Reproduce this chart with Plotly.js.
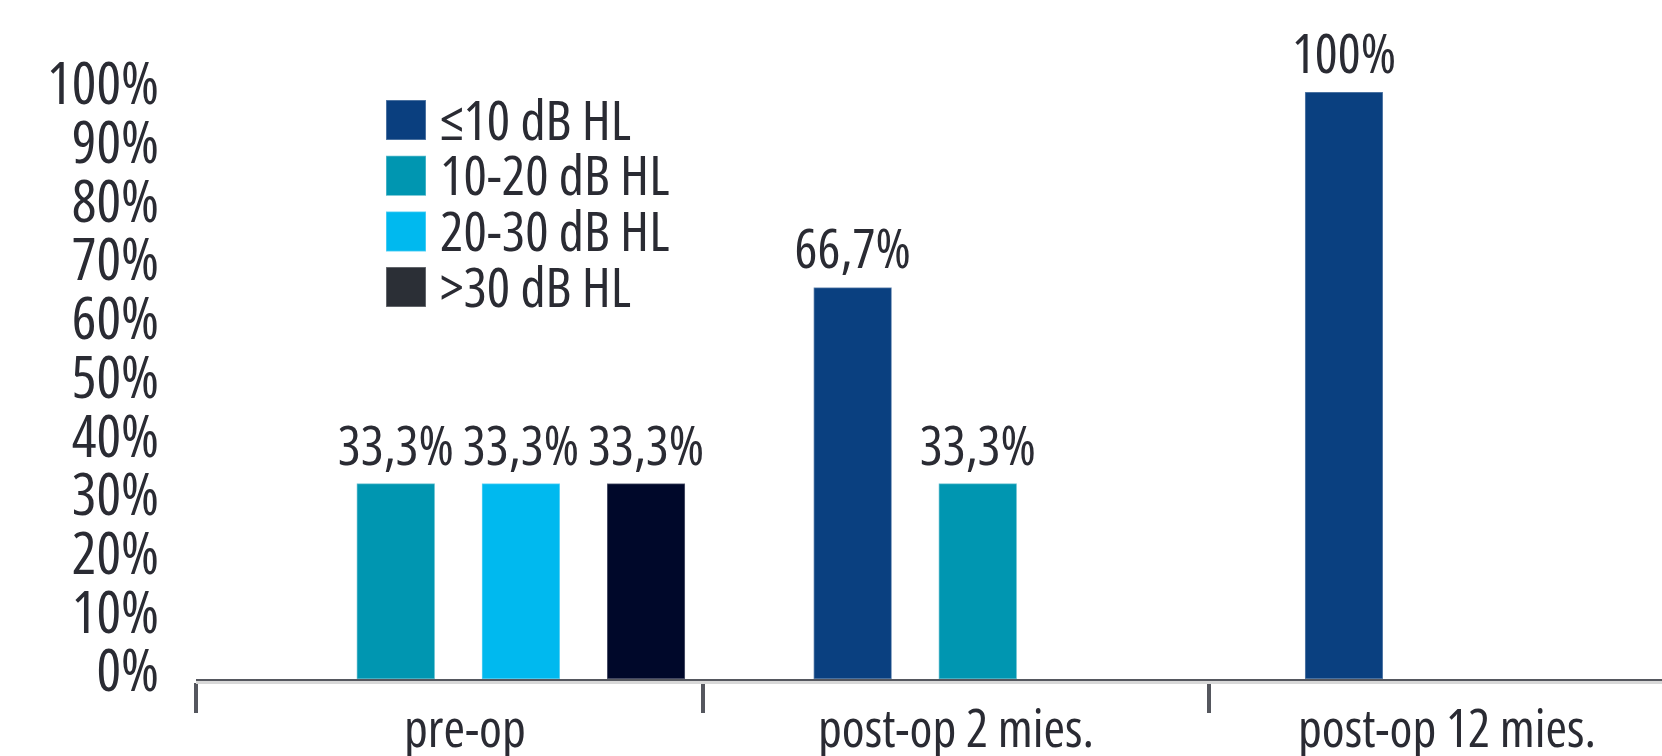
<!DOCTYPE html>
<html>
<head>
<meta charset="utf-8">
<script src="https://cdn.plot.ly/plotly-3.0.1.min.js"></script>
<style>
  html, body { margin: 0; padding: 0; background: #ffffff; }
  #chart { width: 1662px; height: 756px; }
  /* narrow width for every svg label (also for the hidden measuring svg) */
  text { font-stretch: 62.5%; }
</style>
</head>
<body>
<div id="chart"></div>
<script>
// Hearing threshold groups at each time point (share of patients, %)
const categories = ['pre-op', 'post-op 2 mies.', 'post-op 12 mies.'];
const seriesNames = ['\u226410 dB HL', '10-20 dB HL', '20-30 dB HL', '>30 dB HL'];
const le10 = [null, 66.7, 100];
const from10to20 = [33.3, 33.3, null];
const from20to30 = [33.3, null, null];
const over30 = [33.3, null, null];
const seriesValues = [le10, from10to20, from20to30, over30];
const yTickValues = [0, 10, 20, 30, 40, 50, 60, 70, 80, 90, 100];

// Styling
const FONT = "'Open Sans', sans-serif";
const TEXT_COLOR = '#2a2b33';
const barColors = ['#0a4080', '#0096b1', '#00b9ef', '#00082a'];
const keyColors = ['#0a3f7f', '#0096b1', '#00b9ef', '#2b2f36'];
const AXIS_COLOR = '#55575e';

// Plot frame in pixels
const W = 1662, H = 756;
const M = { l: 196, r: 0, t: 92, b: 77 };
const plotW = W - M.l - M.r, plotH = H - M.t - M.b;
const CAT_PX = 506.5;
const xMax = plotW / CAT_PX - 0.5;

// Bar placement inside each category (in category units)
const SLOT = 0.247;
const BAR_W = 0.154;
const groupShift = [0.018, 0.167, 0.137];

// Category label nudges (px) and drop below the axis
const catLabelShift = [16, 0, -15];
const CAT_LABEL_DROP = -10;

const fmt = v => (v == null ? '' : String(v).replace('.', ',') + '%');

const traces = seriesValues.map((vals, i) => ({
  type: 'bar',
  name: seriesNames[i],
  x: categories,
  y: vals,
  width: BAR_W,
  offset: categories.map((c, j) => groupShift[j] + (i - 1.5) * SLOT - BAR_W / 2),
  marker: {
    color: barColors[i],
    line: { color: 'rgba(255,255,255,0.35)', width: 1.5 }
  },
  text: vals.map(fmt),
  textposition: 'outside',
  constraintext: 'none',
  textfont: { family: FONT, size: 54, color: TEXT_COLOR },
  cliponaxis: false,
  hoverinfo: 'skip',
  showlegend: false
}));

const px2x = px => (px - M.l) / plotW;
const py2y = py => (H - M.b - py) / plotH;
const KEY_X0 = 386, KEY_BOX = 40, KEY_TOP = 100, KEY_STEP = 55.7, KEY_TEXT_X = 438;

const shapes = [];
const annotations = [];

// key: swatches + names
seriesNames.forEach((name, i) => {
  const top = KEY_TOP + i * KEY_STEP;
  shapes.push({
    type: 'rect', xref: 'paper', yref: 'paper',
    x0: px2x(KEY_X0), x1: px2x(KEY_X0 + KEY_BOX),
    y0: py2y(top + KEY_BOX), y1: py2y(top),
    fillcolor: keyColors[i],
    line: { color: 'rgba(255,255,255,0.35)', width: 1.5 }
  });
  annotations.push({
    xref: 'paper', yref: 'paper',
    x: px2x(KEY_TEXT_X), y: py2y(top + KEY_BOX / 2 - 2),
    xanchor: 'left', yanchor: 'middle',
    text: name, showarrow: false,
    font: { family: FONT, size: 55, color: TEXT_COLOR }
  });
});

// category names under the axis, placed on the category scale
categories.forEach((c, j) => {
  annotations.push({
    xref: 'x', yref: 'paper',
    x: c, y: 0,
    xanchor: 'center', yanchor: 'top',
    xshift: catLabelShift[j], yshift: CAT_LABEL_DROP,
    text: c, showarrow: false,
    font: { family: FONT, size: 52, color: TEXT_COLOR }
  });
});

// light shadow line under the category axis
shapes.push({
  type: 'line', xref: 'paper', yref: 'paper',
  x0: 0, x1: 1, y0: -3.5 / plotH, y1: -3.5 / plotH,
  line: { color: '#d8d8d8', width: 3 }
});

const layout = {
  width: W, height: H,
  margin: M,
  paper_bgcolor: '#ffffff',
  plot_bgcolor: '#ffffff',
  barmode: 'overlay',
  showlegend: false,
  font: { family: FONT, color: TEXT_COLOR },
  xaxis: {
    type: 'category',
    categoryorder: 'array',
    categoryarray: categories,
    range: [-0.5, xMax],
    showline: true, linecolor: AXIS_COLOR, linewidth: 4,
    ticks: 'outside', tickson: 'boundaries',
    ticklen: 30, tickwidth: 4, tickcolor: AXIS_COLOR,
    showgrid: false, zeroline: false,
    showticklabels: false,
    fixedrange: true
  },
  yaxis: {
    range: [0, 100],
    tickvals: yTickValues,
    ticktext: yTickValues.map(v => v + '%'),
    showline: false, showgrid: false, zeroline: false,
    ticks: '',
    ticklabelstandoff: 36,
    ticklabelshift: -8,
    tickfont: { family: FONT, size: 58, color: TEXT_COLOR },
    fixedrange: true
  },
  shapes: shapes,
  annotations: annotations
};

Plotly.newPlot('chart', traces, layout, { displayModeBar: false, staticPlot: true });
</script>
</body>
</html>
